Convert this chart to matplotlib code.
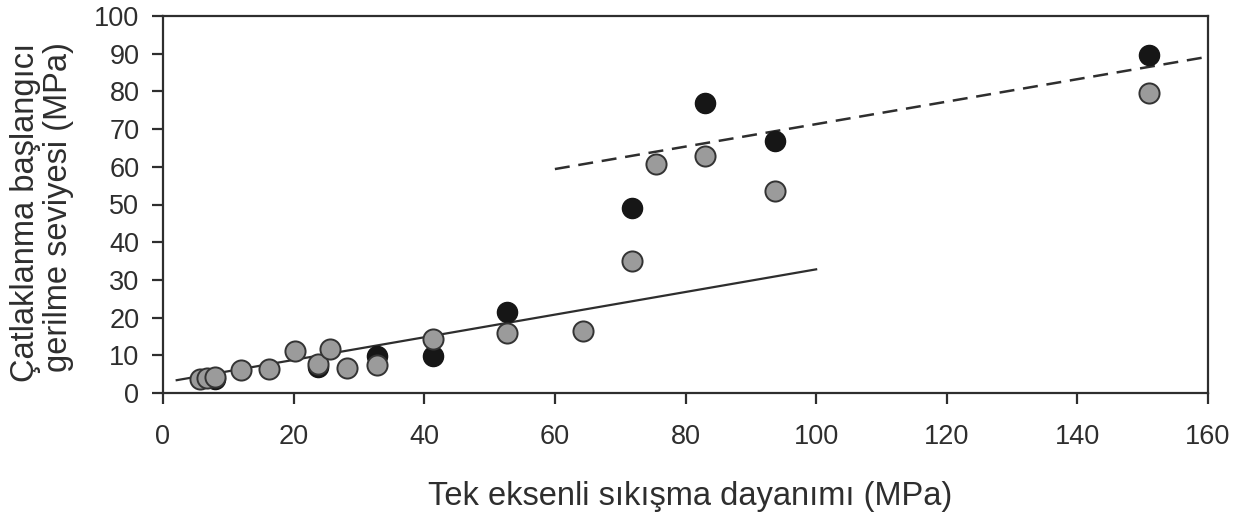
import matplotlib
matplotlib.use("Agg")
import matplotlib.pyplot as plt

plt.rcParams["font.family"] = ["Liberation Sans", "DejaVu Sans"]

# Data (MPa)
gray_x = [5.6, 6.7, 7.9, 12.0, 16.2, 20.2, 23.7, 25.6, 28.1, 32.7,
          41.3, 52.7, 64.3, 71.8, 75.5, 83.0, 93.7, 151.0]
gray_y = [3.6, 4.1, 4.2, 6.1, 6.3, 11.1, 7.7, 11.8, 6.7, 7.4,
          14.3, 15.8, 16.5, 35.0, 60.7, 62.9, 53.6, 79.7]

black_x = [7.9, 23.7, 32.7, 41.3, 52.7, 71.8, 83.0, 93.7, 151.0]
black_y = [3.6, 6.8, 9.8, 9.9, 21.6, 49.2, 77.0, 66.8, 89.6]

# trend lines (end points)
solid_x = [2.1, 100.0]
solid_y = [3.4, 32.8]
dashed_x = [60.0, 160.0]
dashed_y = [59.4, 89.2]

x_ticks = list(range(0, 161, 20))
y_ticks = list(range(0, 101, 10))

ink = "#2e2e2e"

fig = plt.figure(figsize=(12.58, 5.25), dpi=100)
ax = fig.add_axes([163 / 1258, 132 / 525, 1045 / 1258, 377 / 525])

ax.plot(solid_x, solid_y, color=ink, lw=1.6, zorder=2)
ax.plot(dashed_x, dashed_y, color=ink, lw=1.8, dashes=(6, 3.5), zorder=2)

ax.plot(black_x, black_y, "o", ms=14.5, mfc="#161616", mec="#161616",
        mew=1.0, zorder=3)
ax.plot(gray_x, gray_y, "o", ms=14.5, mfc="#9b9b9b", mec="#333333",
        mew=1.4, zorder=4)

ax.set_xlim(0, 160)
ax.set_ylim(0, 100)
ax.set_xticks(x_ticks)
ax.set_yticks(y_ticks)

for s in ax.spines.values():
    s.set_color(ink)
    s.set_linewidth(1.6)

ax.tick_params(axis="both", direction="out", length=8, width=1.6,
               color=ink, labelcolor=ink, labelsize=19.5)
ax.tick_params(axis="x", pad=14)
ax.tick_params(axis="y", pad=9)

fig.text(690 / 1258, 1 - 497 / 525, "Tek eksenli sıkışma dayanımı (MPa)",
         ha="center", va="center", fontsize=23.5, color=ink)
fig.text(42 / 1258, 1 - 212 / 525,
         "Çatlaklanma başlangıcı\ngerilme seviyesi (MPa)",
         rotation=90, ha="center", va="center", multialignment="right",
         fontsize=23.5, color=ink, linespacing=1.1)

fig.savefig("out.png", dpi=100)
